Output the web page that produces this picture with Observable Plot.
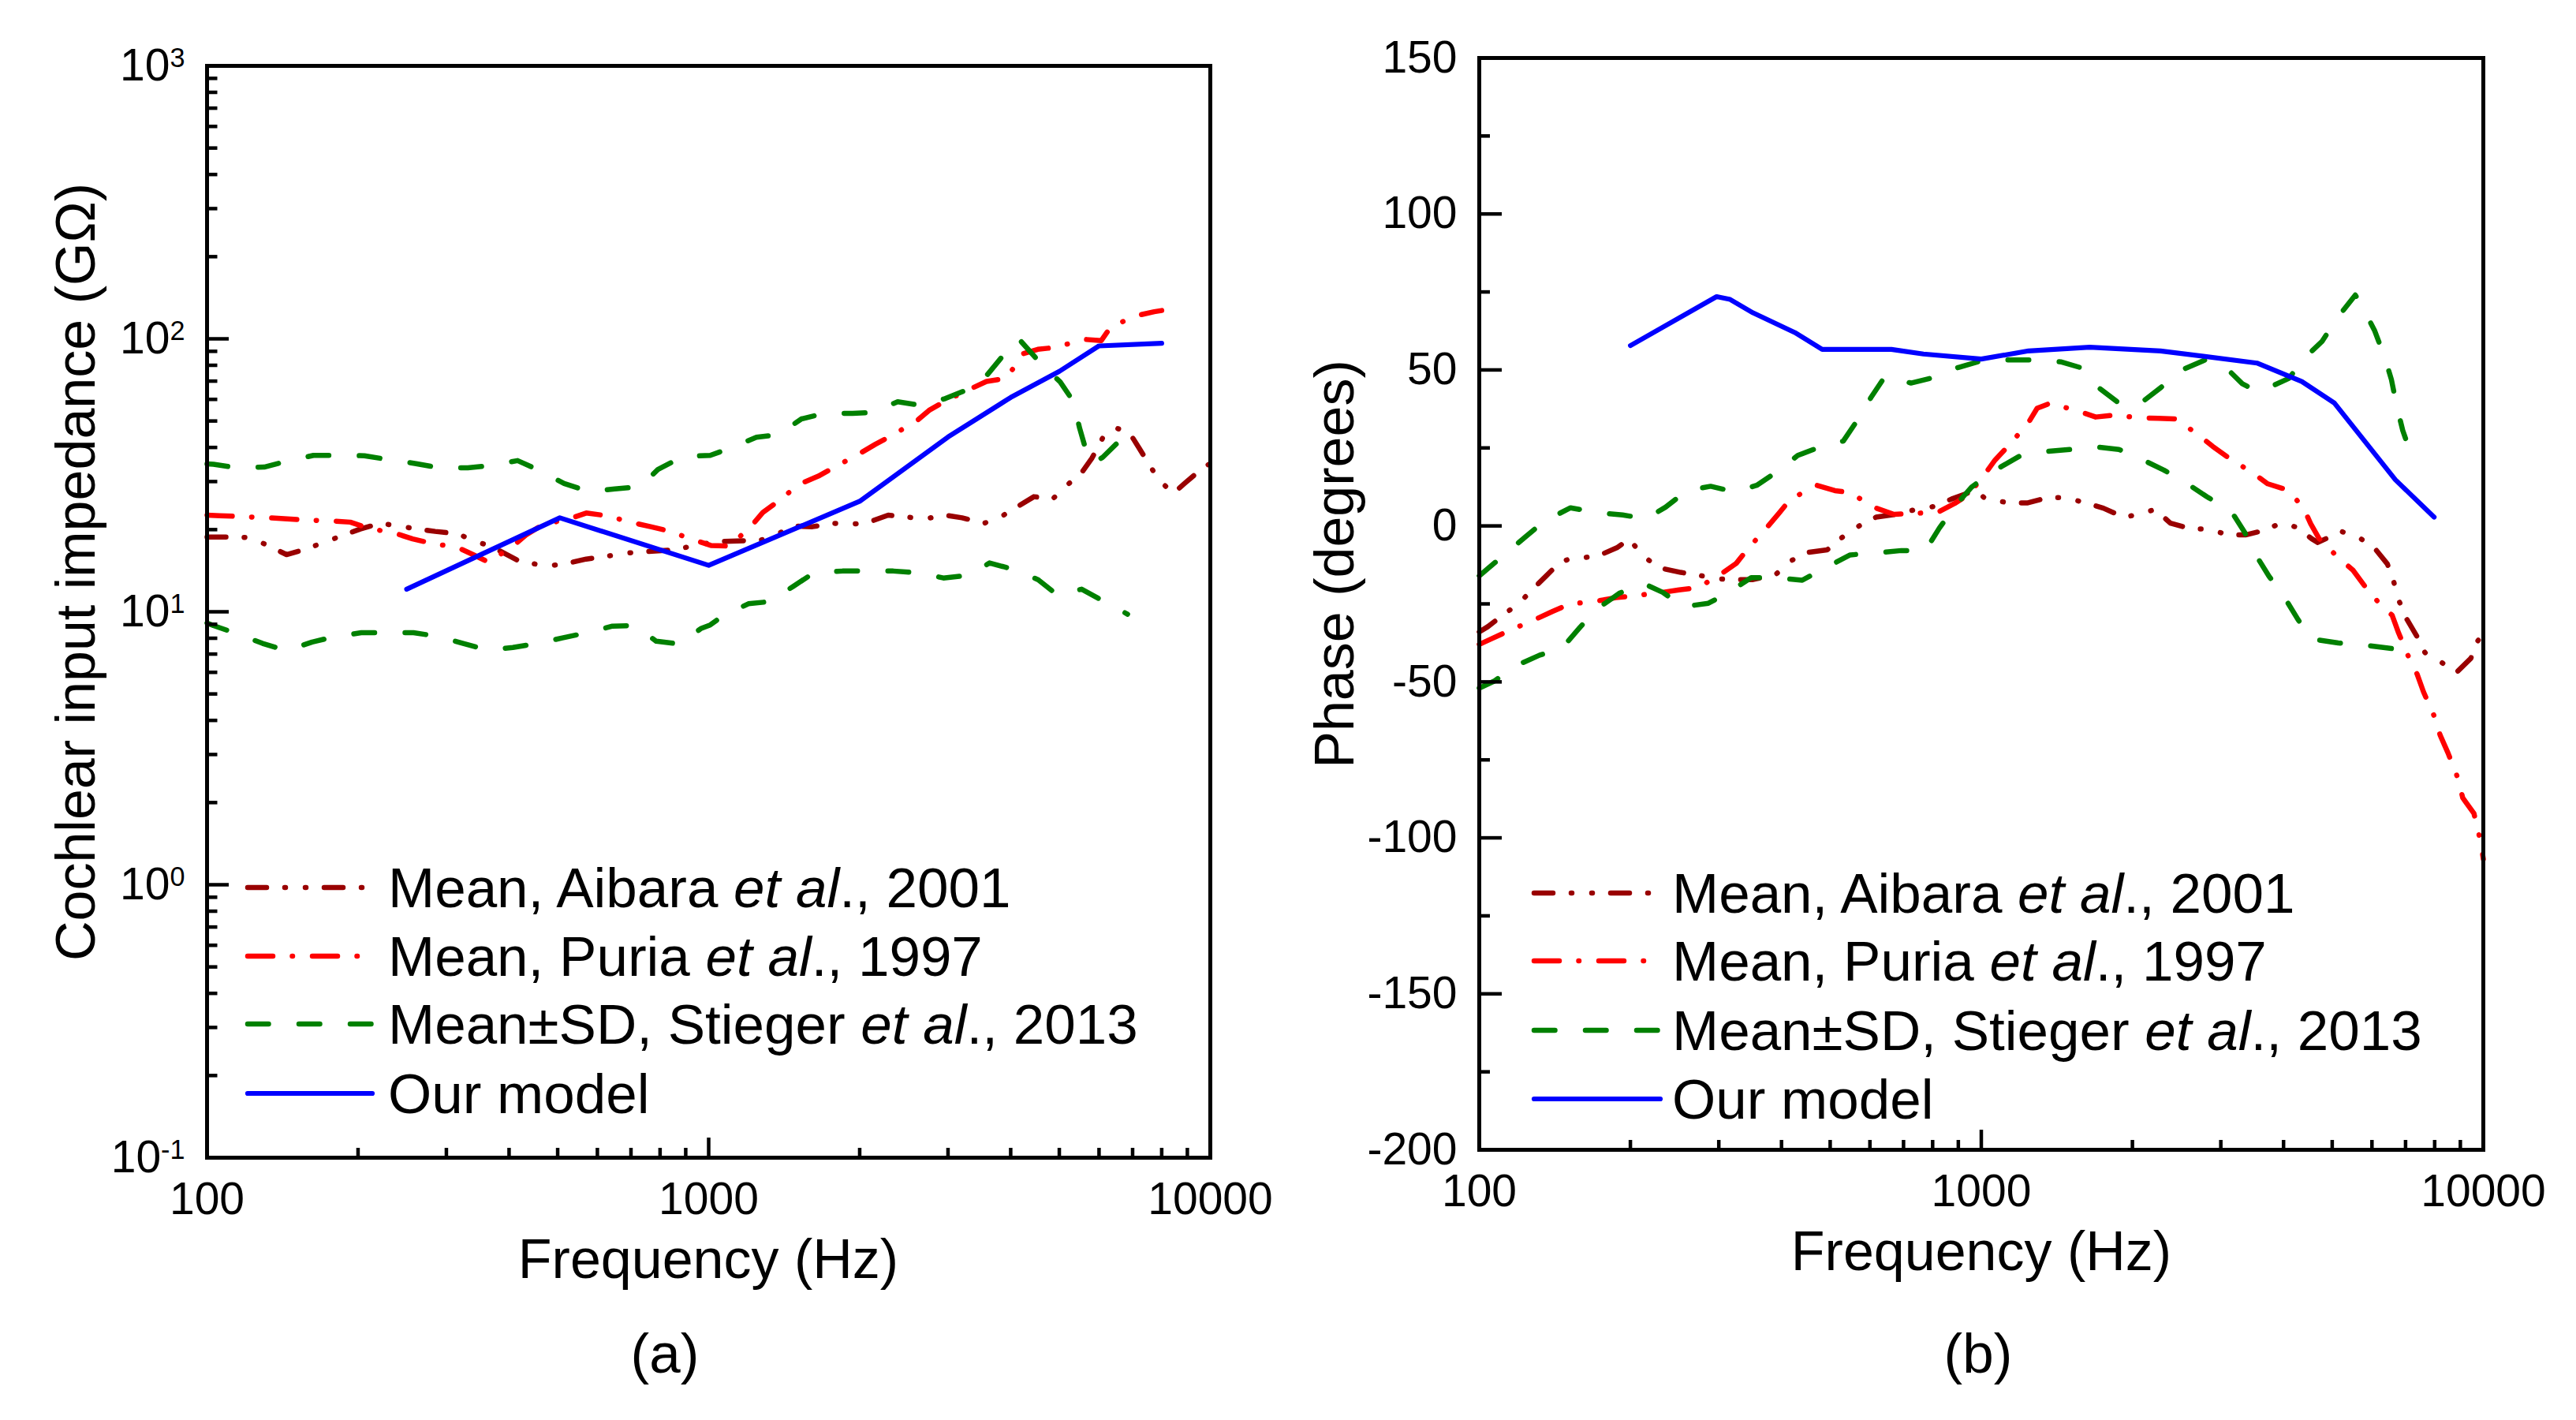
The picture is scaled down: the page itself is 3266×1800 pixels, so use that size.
<!DOCTYPE html>
<html><head><meta charset="utf-8">
<script src="https://cdn.jsdelivr.net/npm/d3@7"></script>
<script src="https://cdn.jsdelivr.net/npm/@observablehq/plot@0.6"></script>
<style>
html,body{margin:0;padding:0;background:#fff;}
#root{position:relative;width:3266px;height:1800px;overflow:hidden;background:#fff;}
#root svg{position:absolute;top:0;}
</style></head><body><div id="root"></div>
<script>
// ---------- data: panel (a) impedance magnitude (GΩ) vs frequency (Hz) ----------
const aibaraMag = [[100,18.8],[113,18.8],[122,18.7],[133,17.4],[144,16.2],[158,17],[170,17.9],[186,19],[202,20.1],[222,21.1],[241,20.6],[263,20.1],[285,19.7],[316,19.3],[341,18.2],[370,17.3],[420,15.3],[478,14.7],[527,15.1],[570,15.6],[630,16],[682,16.4],[750,16.6],[860,16.9],[965,17.7],[1060,18.1],[1270,18.3],[1365,19.2],[1480,20.6],[1610,20.5],[1770,21.1],[1930,20.9],[2100,21.4],[2280,22.6],[2500,22.2],[2700,21.9],[2960,22.6],[3200,22.1],[3540,21.1],[3810,22.2],[4130,24.3],[4450,26.4],[4850,25.9],[5150,28.8],[5550,32.5],[5810,36.6],[6100,43.3],[6450,47.3],[6900,45.3],[7200,40],[7600,34],[7930,30.1],[8450,27.2],[8900,29.6],[9500,32.8],[10000,35]];
const puriaMag = [[100,22.6],[106,22.5],[133,22.1],[156,21.7],[179,21.5],[193,21.3],[209,20.3],[239,19.3],[257,18.5],[281,17.8],[316,17.2],[339,16.2],[364,15.2],[407,17.4],[432,19.1],[466,20.8],[531,22],[570,23],[625,22.5],[706,21.2],[766,20.5],[829,19.8],[938,18.3],[1010,17.5],[1100,17.4],[1216,20.6],[1282,23.1],[1387,25.7],[1513,29.3],[1654,31.4],[1788,34],[2015,38.3],[2150,41.1],[2320,44.3],[2600,50.1],[2750,54.7],[2960,59.1],[3330,65.6],[3580,69.8],[3930,71.7],[4220,88.1],[4530,91.5],[4930,93.1],[5590,99.6],[6060,98.5],[6340,111],[7190,122],[7730,125.7],[8000,127]];
const stiegerHiMag = [[100,34.8],[103,34.7],[115,33.7],[130,33.9],[145,35.7],[163,37.4],[183,37.4],[206,37.3],[232,36],[261,34.9],[292,33.6],[331,33.7],[370,34.4],[416,35.8],[462,32.8],[515,29.5],[576,27.6],[650,28.2],[729,28.7],[792,33.2],[889,37.1],[1007,37.4],[1117,40.1],[1245,43.6],[1378,44.6],[1531,50.9],[1712,53.5],[1935,53.3],[2116,53.7],[2381,58.8],[2660,57],[2960,60.4],[3290,65.3],[3580,73.3],[3850,86.2],[4150,100],[4560,82.4],[5020,69.5],[5330,59.1],[5490,47],[5660,38.7],[5850,35],[6100,36.8],[6600,42.4],[6800,44]];
const stiegerLoMag = [[100,9.1],[103,8.9],[115,8.3],[129,7.66],[144,7.2],[162,7.75],[181,8.13],[203,8.38],[229,8.38],[258,8.38],[288,8.13],[324,7.66],[362,7.24],[407,7.4],[455,7.66],[511,8.02],[572,8.38],[643,8.86],[712,8.9],[786,7.8],[873,7.62],[967,8.7],[1007,8.95],[1060,9.58],[1200,10.7],[1326,10.9],[1475,12.4],[1622,13.9],[1848,14.1],[2079,14.1],[2333,14.1],[2618,13.9],[2937,13.3],[3302,13.6],[3630,15.1],[4050,14.3],[4540,13.1],[4960,11.5],[5540,12.1],[6090,11],[6840,9.8]];
const modelMag = [[250,12.1],[505,22.1],[1000,14.8],[2000,25.4],[3000,43.7],[4000,61],[5000,76],[6000,94.2],[8000,96.3]];

// ---------- data: panel (b) phase (degrees) vs frequency (Hz) ----------
const aibaraPhase = [[100,-34],[104,-32.3],[111,-28.8],[120,-24.8],[127,-20.7],[136,-16],[144,-12],[153,-10.2],[160,-10.2],[172,-9.7],[188,-7],[199,-4.2],[212,-9.7],[229,-13.5],[252,-14.9],[273,-15.8],[300,-17],[326,-17.2],[351,-17.2],[390,-15.5],[415,-11.4],[450,-8.5],[493,-7.7],[527,-3.8],[571,0],[617,2.8],[676,3.7],[733,5.1],[808,6.3],[872,8.6],[970,11.3],[1025,8.5],[1140,7.4],[1238,7.4],[1360,9.1],[1470,9.1],[1610,7.4],[1750,5.7],[1920,2.8],[2060,3.7],[2220,5.3],[2380,0.9],[2620,-1],[2840,-1],[3100,-2.9],[3360,-2.9],[3670,-1.4],[3950,0.9],[4250,-0.4],[4550,-4.1],[4680,-5.3],[5220,-1.8],[5660,-3.8],[6050,-6.8],[6440,-12.2],[6630,-17.9],[6800,-24.2],[7040,-29.9],[7380,-35.5],[7650,-40.6],[8240,-43.7],[8850,-46.9],[9440,-42.5],[9740,-37],[10000,-34]];
const puriaPhase = [[100,-38],[105,-36.4],[115,-33.5],[130,-29.8],[140,-27.4],[151,-25.1],[173,-24],[187,-23],[203,-22.4],[232,-21.3],[250,-20.5],[273,-19.8],[305,-15.1],[325,-12],[343,-7.3],[375,-0.3],[395,4],[417,8.6],[470,13],[511,11.3],[547,10.7],[615,5.8],[670,3.7],[720,4],[818,4.3],[885,7.2],[943,10],[1010,16],[1065,21.1],[1130,25.5],[1240,33],[1292,37.7],[1370,39.3],[1560,36.8],[1690,34.9],[1840,35.5],[2090,34.6],[2250,34.5],[2440,34.3],[2700,29.3],[2890,25.5],[3100,22],[3500,16.6],[3720,13.5],[4060,11.6],[4370,6.2],[4530,0.7],[4710,-4.1],[5160,-10.4],[5500,-14.2],[5800,-19.2],[6300,-26.1],[6580,-28.6],[6780,-34.3],[7090,-41.8],[7380,-47.5],[7600,-53.2],[8000,-61.3],[8200,-67],[8500,-72.7],[8900,-80.9],[9100,-87.2],[9580,-92.2],[9870,-101],[10000,-106.8]];
const stiegerHiPhase = [[100,-16],[104,-13.7],[113,-8.8],[124,-3.3],[135,1.6],[152,5.8],[171,4.3],[193,3.5],[215,2.3],[235,6],[259,11.3],[289,12.7],[323,10.9],[357,13],[392,17.4],[431,22.6],[486,25.8],[531,27.2],[567,34],[603,41.2],[643,47.9],[724,45.8],[810,47.7],[900,50.8],[1010,53.1],[1150,53.2],[1285,53.2],[1440,52.6],[1580,50.7],[1710,44.4],[1900,38.8],[2090,39.7],[2280,44.4],[2510,50],[2790,53.2],[3060,51],[3310,45.6],[3540,43.2],[3780,44.7],[4100,47.3],[4400,53.8],[4770,59.1],[5120,66.7],[5560,74],[5770,69.6],[6070,62.7],[6370,53.8],[6560,46.9],[6730,38.1],[6910,30.6],[7000,28]];
const stiegerLoPhase = [[100,-52],[107,-49.8],[118,-44.9],[132,-41.4],[146,-39.3],[158,-32.9],[170,-27.1],[190,-21.6],[212,-18.4],[232,-21.3],[255,-25.9],[286,-24.8],[314,-21.3],[348,-16.6],[388,-16.6],[440,-17.4],[482,-14],[548,-9.3],[611,-8.7],[693,-7.9],[774,-7.9],[825,-0.7],[883,6],[956,12.4],[1010,15.3],[1050,17.3],[1190,22.3],[1325,23.8],[1500,24.5],[1680,25.4],[1880,24.5],[2090,21.3],[2310,17.9],[2540,14.1],[2830,9.1],[3130,5.3],[3350,-2.2],[3510,-8.9],[3740,-16.1],[4000,-22.4],[4270,-29.9],[4530,-36.2],[5140,-37.5],[5740,-38.1],[6640,-39.4]];
const modelPhase = [[200,57.8],[297,73.5],[316,72.6],[351,68.3],[425,62],[482,56.6],[662,56.6],[767,55.1],[1000,53.5],[1242,56.1],[1644,57.3],[2275,56.1],[3540,52.2],[4350,46.3],[5050,39.4],[6680,14.8],[7980,2.8]];

// ---------- ticks and labels ----------
const freqMajor = [100, 1000, 10000];
const freqMinor = [200,300,400,500,600,700,800,900,2000,3000,4000,5000,6000,7000,8000,9000];
const magMajor = [0.1, 1, 10, 100, 1000];
const magMinor = [0.2,0.3,0.4,0.5,0.6,0.7,0.8,0.9,2,3,4,5,6,7,8,9,20,30,40,50,60,70,80,90,200,300,400,500,600,700,800,900];
const phaseMajor = [-200,-150,-100,-50,0,50,100,150];
const phaseMinor = [-175,-125,-75,-25,25,75,125];
const legendLabels = [
  ["Mean, Aibara ", "et al", "., 2001"],
  ["Mean, Puria ", "et al", "., 1997"],
  ["Mean\u00B1SD, Stieger ", "et al", "., 2013"],
  ["Our model", "", ""]
];
const xTitle = "Frequency (Hz)";
const yTitleA = "Cochlear input impedance (G\u03A9)";
const yTitleB = "Phase (degrees)";

// ---------- styles ----------
const FONT = '"Liberation Sans", Arial, sans-serif';
const styles = [
  {color: "#990000", width: 6.5, dash: "24,23,1,25,1,23"},
  {color: "#ff0000", width: 6.5, dash: "32,24.5,0.5,25"},
  {color: "#008000", width: 6.5, dash: "26.5,38.5"},
  {color: "#0000ff", width: 6.2, dash: null}
];

function lineMark(data, s) {
  return Plot.line(data, {x: d => d[0], y: d => d[1], stroke: s.color, strokeWidth: s.width,
    strokeDasharray: s.dash || undefined, strokeLinecap: "round", strokeLinejoin: "round"});
}

function axesMarks(yMajor, yMinor, yMajorLen, yMinorLen, yFmt) {
  const tw = 4.5;
  return [
    Plot.frame({stroke: "black", strokeWidth: 5}),
    Plot.axisX(freqMinor, {anchor: "bottom", tickSize: -12, strokeWidth: tw, tickFormat: () => "", label: null}),
    Plot.axisX(freqMajor, {anchor: "bottom", tickSize: -25, strokeWidth: tw, tickFormat: () => "", label: null}),
    Plot.axisX(freqMajor, {anchor: "bottom", tickSize: 0, tickPadding: 31, fontSize: 57, fill: "black", tickFormat: d => String(d), label: null}),
    Plot.axisY(yMinor, {anchor: "left", tickSize: -yMinorLen, strokeWidth: tw, tickFormat: () => "", label: null}),
    Plot.axisY(yMajor, {anchor: "left", tickSize: -yMajorLen, strokeWidth: tw, tickFormat: () => "", label: null}),
    Plot.axisY(yMajor, {anchor: "left", tickSize: 0, tickPadding: 28, fontSize: 57, fill: "black", tickFormat: yFmt, label: null})
  ];
}

const root = document.getElementById("root");

// Panel (a)
const svgA = Plot.plot({
  width: 1633, height: 1800,
  marginLeft: 262, marginRight: 99, marginTop: 83, marginBottom: 333,
  style: {fontFamily: FONT, fontSize: "57px", color: "black", background: "transparent", overflow: "visible"},
  x: {type: "log", domain: [100, 10000]},
  y: {type: "log", domain: [0.1, 1000]},
  marks: [
    lineMark(aibaraMag, styles[0]),
    lineMark(puriaMag, styles[1]),
    lineMark(stiegerHiMag, styles[2]),
    lineMark(stiegerLoMag, styles[2]),
    lineMark(modelMag, styles[3]),
    ...axesMarks(magMajor, magMinor, 28, 13.5, d => "10^" + Math.round(Math.log10(d)))
  ]
});
svgA.style.left = "0px";
root.appendChild(svgA);
// render 10^n labels with real superscripts
d3.select(svgA).selectAll("text").each(function() {
  const t = this.textContent;
  if (t && t.startsWith("10^")) {
    const e = t.slice(3);
    this.textContent = "";
    const s = d3.select(this);
    s.append("tspan").text("10");
    s.append("tspan").attr("dy", "-0.5em").attr("font-size", "0.6em").text(e);
  }
});

// Panel (b)
const svgB = Plot.plot({
  width: 1633, height: 1800,
  marginLeft: 242, marginRight: 118, marginTop: 73, marginBottom: 343,
  style: {fontFamily: FONT, fontSize: "57px", color: "black", background: "transparent", overflow: "visible"},
  x: {type: "log", domain: [100, 10000]},
  y: {domain: [-200, 150]},
  marks: [
    lineMark(aibaraPhase, styles[0]),
    lineMark(puriaPhase, styles[1]),
    lineMark(stiegerHiPhase, styles[2]),
    lineMark(stiegerLoPhase, styles[2]),
    lineMark(modelPhase, styles[3]),
    ...axesMarks(phaseMajor, phaseMinor, 29, 14, d => String(d))
  ]
});
svgB.style.left = "1633px";
root.appendChild(svgB);

// Overlay: titles, panel letters, legends
const ov = d3.create("svg").attr("width", 3266).attr("height", 1800)
  .style("left", "0px").style("font-family", FONT).style("pointer-events", "none");
function txt(x, y, s, size, anchor, rot) {
  const t = ov.append("text").attr("font-size", size).attr("fill", "black").attr("text-anchor", anchor || "middle").text(s);
  if (rot) t.attr("transform", `translate(${x},${y}) rotate(${rot})`);
  else t.attr("x", x).attr("y", y);
  return t;
}
txt(898, 1620, xTitle, 70);
txt(2512, 1610, xTitle, 70);
txt(843, 1740, "(a)", 71);
txt(2508, 1740, "(b)", 71);
txt(120, 725, yTitleA, 70, "middle", -90);
txt(1716, 715, yTitleB, 70, "middle", -90);

function legend(x1, x2, tx, rows) {
  rows.forEach((y, i) => {
    const s = styles[i];
    ov.append("line").attr("x1", x1).attr("x2", x2).attr("y1", y).attr("y2", y)
      .attr("stroke", s.color).attr("stroke-width", s.width).attr("stroke-linecap", "round")
      .attr("stroke-dasharray", s.dash || null);
    const t = ov.append("text").attr("x", tx).attr("y", y + 25).attr("font-size", 71).attr("fill", "black");
    const [a, b, c] = legendLabels[i];
    t.append("tspan").text(a);
    if (b) t.append("tspan").attr("font-style", "italic").text(b);
    if (c) t.append("tspan").text(c);
  });
}
legend(314, 472, 492, [1125, 1212, 1298, 1386]);
legend(1945, 2105, 2120, [1132, 1218, 1306, 1393]);
root.appendChild(ov.node());
</script></body></html>
